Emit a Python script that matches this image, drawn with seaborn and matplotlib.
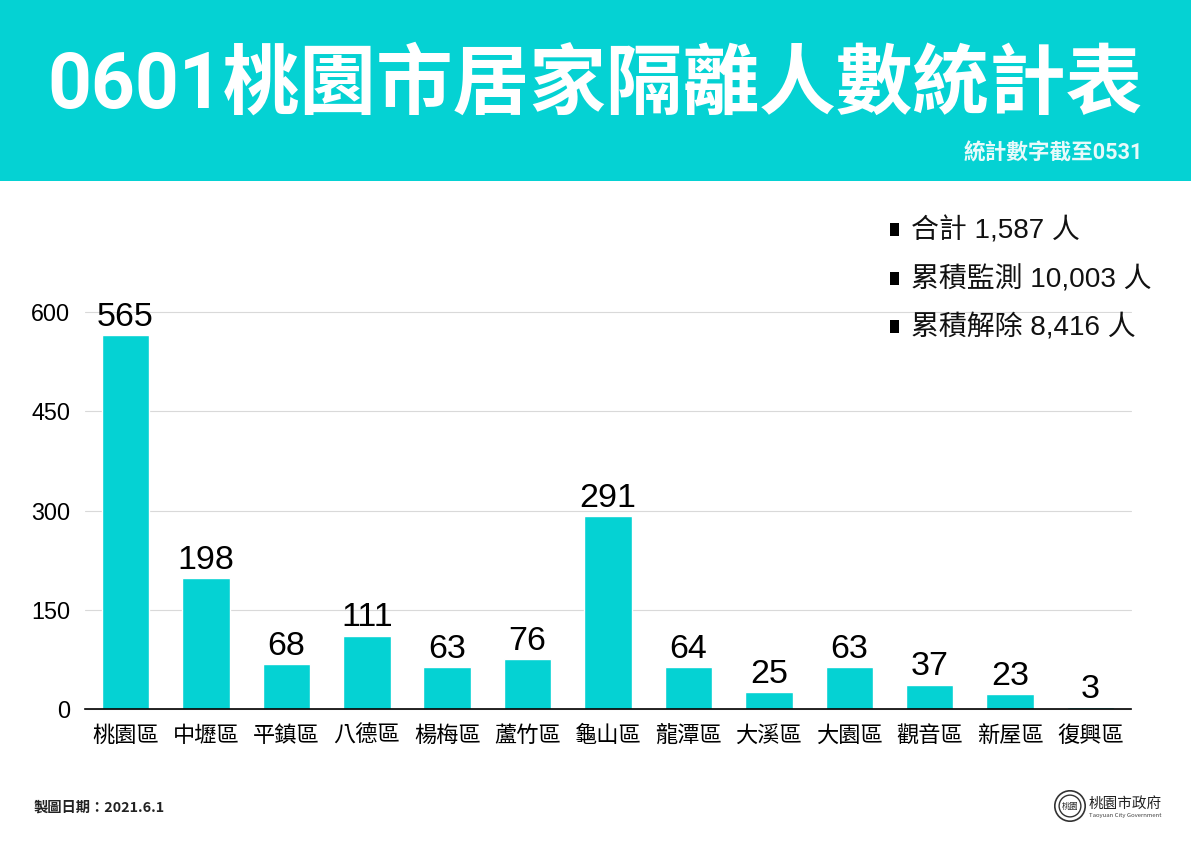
import pandas as pd
import seaborn as sns
import matplotlib.pyplot as plt
from matplotlib.patches import Rectangle, Circle

districts = ["桃園區", "中壢區", "平鎮區", "八德區", "楊梅區", "蘆竹區", "龜山區",
             "龍潭區", "大溪區", "大園區", "觀音區", "新屋區", "復興區"]
counts = [565, 198, 68, 111, 63, 76, 291, 64, 25, 63, 37, 23, 3]
y_ticks = [0, 150, 300, 450, 600]
summary = ["合計 1,587 人", "累積監測 10,003 人", "累積解除 8,416 人"]

W, H = 1191, 842
TEAL = "#05D2D3"
CJK = ["Noto Sans CJK TC", "DejaVu Sans"]
MIXED = ["Roboto", "Noto Sans CJK TC"]
SWISS = ["Liberation Sans", "Noto Sans CJK TC"]

sns.set_theme(style="white")
plt.rcParams["font.family"] = CJK

fig = plt.figure(figsize=(W / 100, H / 100), dpi=100, facecolor="white")


# figure text placed by pixel position from the top left
def px_text(x, y, s, **kw):
    return fig.text(x / W, 1 - y / H, s, **kw)


# header band
fig.add_artist(Rectangle((0, 1 - 181 / H), 1, 181 / H, transform=fig.transFigure,
                         facecolor=TEAL, edgecolor="none", zorder=0))
px_text(47, 87, "0601桃園市居家隔離人數統計表", fontsize=55.2, fontweight="bold",
        family=MIXED, color="white", va="center", ha="left")
px_text(1143, 154, "統計數字截至0531", fontsize=15.6, fontweight="bold", family=MIXED,
        color="#E8FAFA", va="center", ha="right")

# chart
ax = fig.add_axes([85.3 / W, 1 - 709 / H, 1045.5 / W, 397 / H])
data = pd.DataFrame({"district": districts, "count": counts})
sns.barplot(data=data, x="district", y="count", color=TEAL, saturation=1, width=0.59, ax=ax, zorder=2)

ax.set_xlim(-0.5, 12.5)
ax.set_ylim(0, 600)
ax.set_yticks(y_ticks)
ax.set_xlabel("")
ax.set_ylabel("")
ax.grid(axis="y", color="#D9D9D9", linewidth=0.8, zorder=0, clip_on=False)
ax.set_axisbelow(True)
sns.despine(ax=ax, left=True)
ax.spines["bottom"].set_color("black")
ax.spines["bottom"].set_linewidth(1.2)
ax.tick_params(axis="both", length=0, colors="black")
ax.tick_params(axis="x", labelsize=16, pad=10.5)
ax.tick_params(axis="y", pad=11)
for lab in ax.get_yticklabels():
    lab.set_fontfamily("Liberation Sans")
    lab.set_fontsize(16.8)
ax.patch.set_alpha(0)

labels = ax.bar_label(ax.containers[0], fontsize=24.5, padding=1.5, color="black", clip_on=False)
for lab in labels:
    lab.set_fontfamily("Liberation Sans")

# summary list at top right
for y, line in zip([229, 278, 326], summary):
    fig.add_artist(Rectangle((890 / W, 1 - (y + 7) / H), 9 / W, 13 / H, transform=fig.transFigure,
                             facecolor="black", edgecolor="none", zorder=5))
    px_text(911, y + 2, line, fontsize=20.1, family=SWISS, color="#111111", va="center", ha="left", zorder=6,
            bbox=dict(facecolor="white", edgecolor="none", pad=1))

# footer
px_text(34, 808, "製圖日期：2021.6.1", fontsize=10.3, fontweight="bold", color="#222222",
        va="center", ha="left")

# city government mark
logo = fig.add_axes([1054 / W, 1 - 822 / H, 32 / W, 32 / H])
logo.set_xlim(-1, 1)
logo.set_ylim(-1, 1)
logo.set_aspect("equal")
logo.axis("off")
logo.add_patch(Circle((0, 0), 0.95, fill=False, edgecolor="#333333", linewidth=1.2))
logo.add_patch(Circle((0, 0), 0.68, fill=False, edgecolor="#333333", linewidth=1))
logo.text(0, 0, "桃園", fontsize=6, ha="center", va="center", color="#333333")
px_text(1089, 804, "桃園市政府", fontsize=10.5, fontweight="medium", color="#222222", va="center", ha="left")
px_text(1089, 816, "Taoyuan City Government", fontsize=4.3, color="#444444", va="center", ha="left")

fig.savefig("out.png", dpi=100)
